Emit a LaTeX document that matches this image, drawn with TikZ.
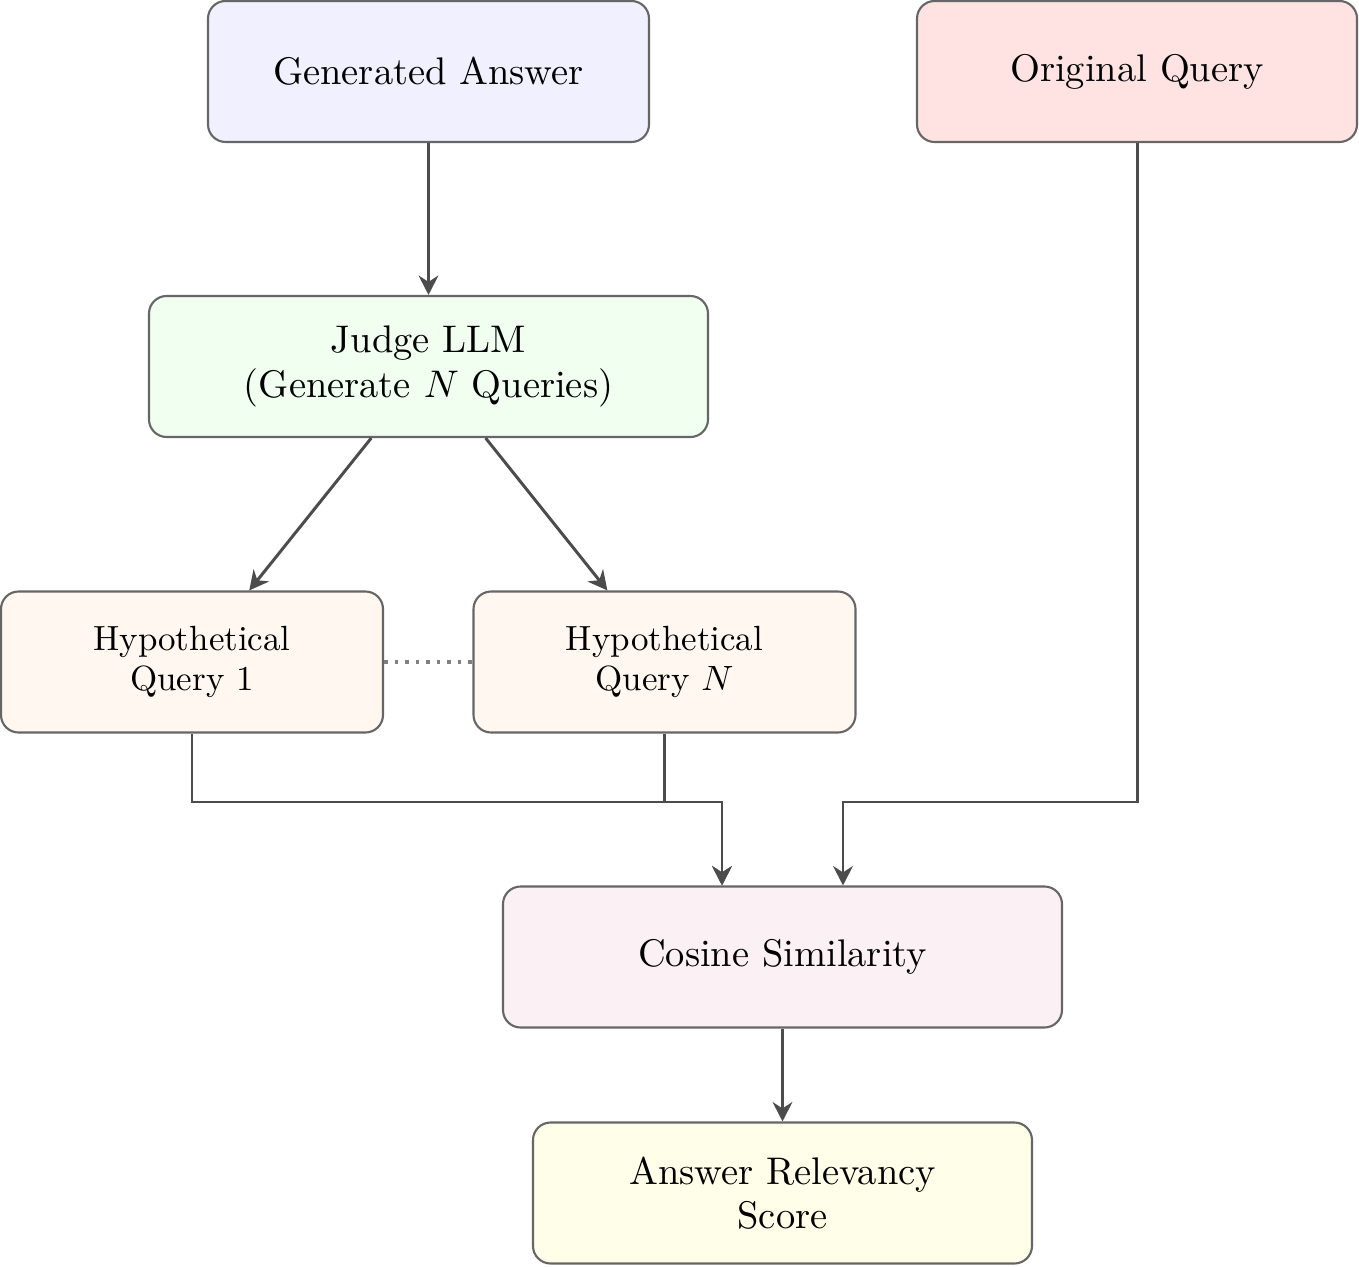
\documentclass[tikz,border=0pt]{standalone}
\usetikzlibrary{arrows.meta}
\begin{document}
\begin{tikzpicture}[every node/.style={font=\fontsize{10.95}{12.6}\selectfont},
  stagebox/.style={draw=black!60,line width=0.6pt,rounded corners=5pt,minimum width=4.41cm,minimum height=1.41cm,align=center},
  hypbox/.style={stagebox,fill=orange!6,minimum width=3.82cm,font=\fontsize{9.95}{11.4}\selectfont},
  flow/.style={-{Stealth[length=5.5pt,width=5.6pt]},line width=0.85pt,black!70}]
\useasboundingbox (0,0) rectangle (13.59,12.66);
\node[stagebox,fill=blue!6] (ans) at (4.285,11.945) {Generated Answer};
\node[stagebox,fill=red!11,minimum width=4.40cm] (orig) at (11.37,11.945) {Original Query};
\node[stagebox,fill=green!6,minimum width=5.59cm] (judge) at (4.285,8.995) {Judge LLM\\(Generate $N$ Queries)};
\node[hypbox] (hyp1) at (1.92,6.04) {Hypothetical\\Query 1};
\node[hypbox] (hypN) at (6.645,6.04) {Hypothetical\\Query $N$};
\node[stagebox,fill=purple!6,minimum width=5.59cm] (cos) at (7.825,3.09) {Cosine Similarity};
\node[stagebox,fill=yellow!9,minimum width=4.99cm] (score) at (7.825,0.73) {Answer Relevancy\\Score};
\coordinate (merge) at (7.22,4.64);
\coordinate (qin) at (8.43,4.64);
\draw[flow] (ans) -- (judge);
\draw[flow] (judge) -- (hyp1);
\draw[flow] (judge) -- (hypN);
\draw[dotted,line width=1pt,black!50] (hyp1) -- (hypN);
\draw[flow] (hyp1.south) |- (merge) -- (merge |- cos.north);
\draw[flow] (hypN.south) |- (merge) -- (merge |- cos.north);
\draw[flow] (orig.south) |- (qin) -- (qin |- cos.north);
\draw[flow] (cos) -- (score);
\end{tikzpicture}
\end{document}
